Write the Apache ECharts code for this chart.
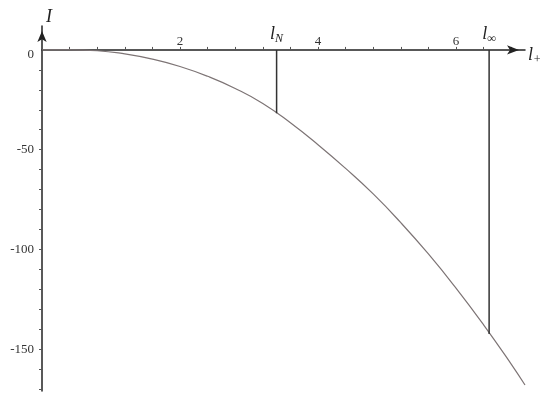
<!DOCTYPE html>
<html>
<head>
<meta charset="utf-8">
<script src="https://cdn.jsdelivr.net/npm/echarts@6/dist/echarts.min.js"></script>
<style>
  html, body { margin: 0; padding: 0; background: #fff; }
  #chart { width: 545px; height: 401px; }
</style>
</head>
<body>
<div id="chart"></div>
<script>
// curve values
var lPlus = [0, 0.4, 0.8, 1.2, 1.6, 2.0, 2.4, 2.8, 3.2, 3.6, 4.0, 4.4, 4.8, 5.2, 5.6, 6.0, 6.4, 6.8, 7.0]
var intensity = [0, 0, -0.4, -2.0, -4.6, -8.3, -13.2, -19.3, -26.8, -36.5, -47.5, -59.4, -72.2, -86.6, -102.3, -119.4, -137.8, -157.5, -168]

// the two marked lengths and where they meet the curve
var lN = 3.4
var lNValue = -31.7
var lInf = 6.48
var lInfValue = -142.4

// ticks and labels
var xLabels = [2, 4, 6]
var xTicks = [0.4, 0.8, 1.2, 1.6, 2.0, 2.4, 2.8, 3.2, 3.6, 4.0, 4.4, 4.8, 5.2, 5.6, 6.0, 6.4, 6.8]
var yLabels = [0, -50, -100, -150]
var yTicks = [-10, -20, -30, -40, -50, -60, -70, -80, -90, -100, -110, -120, -130, -140, -150, -160, -170]

var yMin = -171
var yMax = 12
var gridTop = 26
var gridBottom = 10
var gridHeight = 401 - gridTop - gridBottom
// the x axis sits on I = 0, so move the top axis down to it
var xAxisOffset = -gridHeight * yMax / (yMax - yMin)

var serif = 'Liberation Serif'
var subRich = {
  l: { fontFamily: serif, fontStyle: 'italic', fontSize: 18, color: '#222' },
  s: { fontFamily: serif, fontStyle: 'italic', fontSize: 12, color: '#222', padding: [9, 0, 0, 0] }
}

function markLine (x, y, text) {
  return {
    type: 'line',
    showSymbol: true,
    symbol: 'circle',
    symbolSize: 0.1,
    lineStyle: { color: '#333', width: 1.5 },
    itemStyle: { color: '#333' },
    data: [
      {
        value: [x, 0],
        label: { show: true, position: 'top', distance: 5, formatter: text, rich: subRich }
      },
      [x, y]
    ]
  }
}

var chart = echarts.init(document.getElementById('chart'))
chart.setOption({
  animation: false,
  backgroundColor: '#fff',
  grid: { left: 42, right: 20, top: gridTop, bottom: gridBottom },
  xAxis: {
    type: 'value',
    position: 'top',
    offset: xAxisOffset,
    min: 0,
    max: 7,
    name: '{l|l}{s|+}',
    nameLocation: 'end',
    nameGap: 3,
    nameTextStyle: { rich: subRich, padding: [10, 0, 0, 0] },
    axisLine: {
      onZero: false,
      symbol: ['none', 'arrow'],
      symbolSize: [7, 12],
      symbolOffset: [0, -6],
      lineStyle: { color: '#222', width: 1.5 }
    },
    axisTick: {
      length: 3,
      customValues: xTicks,
      lineStyle: { color: '#555', width: 1 }
    },
    axisLabel: {
      margin: 2,
      customValues: xLabels,
      fontFamily: serif,
      fontSize: 13,
      color: '#333'
    },
    splitLine: { show: false }
  },
  yAxis: {
    type: 'value',
    min: yMin,
    max: yMax,
    name: 'I',
    nameLocation: 'end',
    nameGap: 0,
    nameTextStyle: {
      fontFamily: serif, fontStyle: 'italic', fontSize: 18, color: '#222',
      padding: [0, 0, 0, 14]
    },
    axisLine: {
      symbol: ['none', 'arrow'],
      symbolSize: [7, 11],
      symbolOffset: [0, -5],
      lineStyle: { color: '#222', width: 1.5 }
    },
    axisTick: {
      length: 3,
      customValues: yTicks,
      lineStyle: { color: '#555', width: 1 }
    },
    axisLabel: {
      margin: 8,
      customValues: yLabels,
      fontFamily: serif,
      fontSize: 13,
      color: '#333',
      formatter: function (v) {
        return v === 0 ? '{z|0}' : String(v)
      },
      rich: { z: { fontFamily: serif, fontSize: 13, color: '#333', padding: [10, 0, 0, 0] } }
    },
    splitLine: { show: false }
  },
  series: [
    {
      name: 'I',
      type: 'line',
      smooth: true,
      showSymbol: false,
      lineStyle: { color: '#7d7475', width: 1.2 },
      data: lPlus.map(function (x, i) { return [x, intensity[i]] })
    },
    markLine(lN, lNValue, '{l|l}{s|N}'),
    markLine(lInf, lInfValue, '{l|l}{s|∞}')
  ]
})
</script>
</body>
</html>
